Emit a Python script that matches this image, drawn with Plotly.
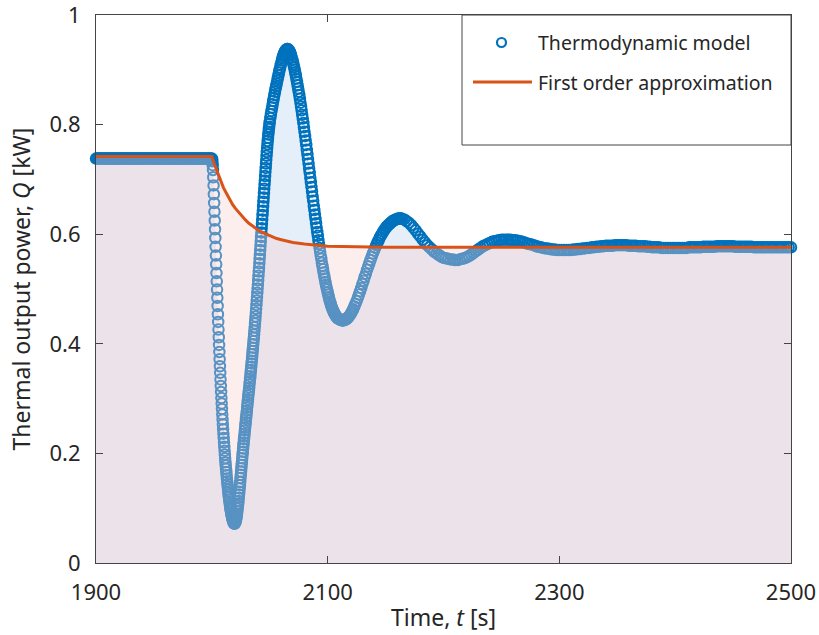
import numpy as np
import plotly.graph_objects as go

# ---- Thermodynamic model: Q [kW] sampled on a piecewise time grid ----
t_hold = np.arange(1900, 2000, 1.0)
q_hold = [
    0.738, 0.738, 0.738, 0.738, 0.738, 0.738, 0.738, 0.738, 0.738, 0.738,
    0.738, 0.738, 0.738, 0.738, 0.738, 0.738, 0.738, 0.738, 0.738, 0.738,
    0.738, 0.738, 0.738, 0.738, 0.738, 0.738, 0.738, 0.738, 0.738, 0.738,
    0.738, 0.738, 0.738, 0.738, 0.738, 0.738, 0.738, 0.738, 0.738, 0.738,
    0.738, 0.738, 0.738, 0.738, 0.738, 0.738, 0.738, 0.738, 0.738, 0.738,
    0.738, 0.738, 0.738, 0.738, 0.738, 0.738, 0.738, 0.738, 0.738, 0.738,
    0.738, 0.738, 0.738, 0.738, 0.738, 0.738, 0.738, 0.738, 0.738, 0.738,
    0.738, 0.738, 0.738, 0.738, 0.738, 0.738, 0.738, 0.738, 0.738, 0.738,
    0.738, 0.738, 0.738, 0.738, 0.738, 0.738, 0.738, 0.738, 0.738, 0.738,
    0.738, 0.738, 0.738, 0.738, 0.738, 0.738, 0.738, 0.738, 0.738, 0.738]

t_drop = np.arange(2000, 2020, 0.25)
q_drop = [
    0.738, 0.737, 0.733, 0.726, 0.717, 0.704, 0.689, 0.673,
    0.657, 0.641, 0.625, 0.609, 0.593, 0.577, 0.561, 0.545,
    0.529, 0.514, 0.499, 0.484, 0.469, 0.454, 0.440, 0.426,
    0.412, 0.398, 0.385, 0.372, 0.359, 0.347, 0.335, 0.323,
    0.312, 0.301, 0.291, 0.281, 0.271, 0.262, 0.253, 0.244,
    0.236, 0.228, 0.220, 0.212, 0.205, 0.198, 0.191, 0.184,
    0.178, 0.172, 0.166, 0.160, 0.154, 0.149, 0.144, 0.139,
    0.134, 0.129, 0.124, 0.120, 0.116, 0.112, 0.108, 0.104,
    0.100, 0.097, 0.094, 0.091, 0.088, 0.086, 0.083, 0.081,
    0.079, 0.077, 0.076, 0.074, 0.073, 0.072, 0.072, 0.072]

t_rise = np.arange(2020, 2050, 0.25)
q_rise = [
    0.073, 0.074, 0.076, 0.078, 0.080, 0.083, 0.086, 0.090,
    0.094, 0.099, 0.104, 0.108, 0.113, 0.119, 0.125, 0.130,
    0.136, 0.142, 0.148, 0.155, 0.161, 0.167, 0.173, 0.179,
    0.185, 0.191, 0.197, 0.203, 0.209, 0.215, 0.220, 0.226,
    0.231, 0.236, 0.242, 0.247, 0.252, 0.257, 0.263, 0.268,
    0.273, 0.278, 0.284, 0.289, 0.294, 0.299, 0.305, 0.310,
    0.315, 0.320, 0.326, 0.331, 0.336, 0.341, 0.347, 0.352,
    0.358, 0.364, 0.369, 0.375, 0.381, 0.387, 0.393, 0.399,
    0.405, 0.411, 0.417, 0.424, 0.430, 0.437, 0.443, 0.450,
    0.457, 0.464, 0.471, 0.479, 0.486, 0.493, 0.501, 0.508,
    0.516, 0.524, 0.532, 0.539, 0.547, 0.555, 0.563, 0.571,
    0.579, 0.587, 0.595, 0.603, 0.611, 0.619, 0.627, 0.635,
    0.643, 0.651, 0.659, 0.667, 0.675, 0.683, 0.691, 0.698,
    0.706, 0.714, 0.721, 0.729, 0.736, 0.743, 0.750, 0.757,
    0.764, 0.770, 0.776, 0.782, 0.787, 0.792, 0.796, 0.801]

t_peak = np.arange(2050, 2118, 0.5)
q_peak = [
    0.805, 0.812, 0.819, 0.825, 0.831, 0.837, 0.843, 0.849,
    0.854, 0.860, 0.865, 0.870, 0.875, 0.880, 0.885, 0.890,
    0.895, 0.900, 0.904, 0.909, 0.913, 0.917, 0.921, 0.925,
    0.928, 0.931, 0.933, 0.935, 0.936, 0.937, 0.938, 0.938,
    0.937, 0.936, 0.934, 0.932, 0.929, 0.926, 0.922, 0.918,
    0.914, 0.910, 0.905, 0.900, 0.895, 0.890, 0.884, 0.878,
    0.872, 0.866, 0.860, 0.854, 0.847, 0.840, 0.833, 0.826,
    0.818, 0.811, 0.803, 0.795, 0.787, 0.779, 0.771, 0.763,
    0.754, 0.746, 0.737, 0.729, 0.720, 0.712, 0.703, 0.695,
    0.686, 0.678, 0.669, 0.661, 0.652, 0.644, 0.636, 0.628,
    0.620, 0.612, 0.604, 0.597, 0.589, 0.582, 0.575, 0.568,
    0.561, 0.555, 0.548, 0.542, 0.536, 0.530, 0.524, 0.519,
    0.513, 0.508, 0.503, 0.499, 0.494, 0.490, 0.485, 0.481,
    0.477, 0.474, 0.470, 0.467, 0.464, 0.462, 0.459, 0.457,
    0.455, 0.453, 0.451, 0.450, 0.448, 0.447, 0.446, 0.446,
    0.445, 0.444, 0.444, 0.444, 0.443, 0.443, 0.443, 0.443,
    0.443, 0.444, 0.444, 0.444, 0.445, 0.446, 0.447, 0.448]

t_osc = np.arange(2118, 2164, 1.0)
q_osc = [
    0.449, 0.452, 0.455, 0.459, 0.463, 0.468, 0.473, 0.478, 0.484, 0.490,
    0.496, 0.502, 0.509, 0.515, 0.522, 0.528, 0.535, 0.541, 0.547, 0.553,
    0.559, 0.565, 0.570, 0.575, 0.580, 0.585, 0.589, 0.594, 0.598, 0.601,
    0.605, 0.608, 0.611, 0.614, 0.616, 0.618, 0.620, 0.622, 0.624, 0.625,
    0.626, 0.627, 0.628, 0.628, 0.629, 0.629]

t_damp = np.arange(2164, 2220, 2.0)
q_damp = [
    0.628, 0.627, 0.624, 0.621, 0.617, 0.612, 0.607, 0.601, 0.596, 0.590,
    0.585, 0.580, 0.576, 0.572, 0.568, 0.565, 0.562, 0.559, 0.557, 0.556,
    0.555, 0.554, 0.554, 0.553, 0.553, 0.554, 0.555, 0.556]

t_tail = np.arange(2220, 2501, 2.0)
q_tail = [
    0.558, 0.560, 0.563, 0.566, 0.569, 0.572, 0.575, 0.578, 0.580, 0.582,
    0.584, 0.586, 0.587, 0.588, 0.589, 0.590, 0.590, 0.590, 0.590, 0.590,
    0.589, 0.589, 0.588, 0.587, 0.586, 0.585, 0.583, 0.582, 0.581, 0.580,
    0.578, 0.577, 0.576, 0.575, 0.574, 0.574, 0.573, 0.572, 0.572, 0.571,
    0.571, 0.571, 0.571, 0.571, 0.571, 0.571, 0.572, 0.572, 0.573, 0.573,
    0.574, 0.574, 0.575, 0.575, 0.576, 0.576, 0.577, 0.577, 0.578, 0.578,
    0.579, 0.579, 0.579, 0.579, 0.580, 0.580, 0.580, 0.580, 0.580, 0.580,
    0.579, 0.579, 0.579, 0.579, 0.578, 0.578, 0.578, 0.578, 0.577, 0.577,
    0.576, 0.576, 0.576, 0.576, 0.575, 0.575, 0.575, 0.575, 0.575, 0.575,
    0.575, 0.575, 0.575, 0.575, 0.575, 0.575, 0.576, 0.576, 0.576, 0.576,
    0.576, 0.576, 0.577, 0.577, 0.577, 0.577, 0.577, 0.577, 0.578, 0.578,
    0.578, 0.578, 0.578, 0.578, 0.578, 0.578, 0.577, 0.577, 0.577, 0.577,
    0.577, 0.577, 0.577, 0.577, 0.576, 0.576, 0.576, 0.576, 0.576, 0.576,
    0.576, 0.576, 0.576, 0.576, 0.576, 0.576, 0.576, 0.576, 0.576, 0.576,
    0.576]

# ---- First order approximation ----
t_fo = [1900, 2000, 2002, 2004, 2006, 2008, 2010, 2012, 2014, 2016, 2018,
        2020, 2023, 2026, 2029, 2032, 2035, 2038, 2041, 2044, 2048, 2052,
        2056, 2060, 2065, 2070, 2080, 2090, 2100, 2150, 2500]
q_fo = [0.742, 0.742, 0.729, 0.717, 0.705, 0.695, 0.685, 0.677, 0.669,
        0.661, 0.654, 0.648, 0.640, 0.632, 0.626, 0.620, 0.615, 0.610,
        0.606, 0.603, 0.599, 0.595, 0.592, 0.590, 0.587, 0.585, 0.582,
        0.580, 0.578, 0.576, 0.576]

# axis ticks
x_ticks = [1900, 2100, 2300, 2500]
y_ticks = [0, 0.2, 0.4, 0.6, 0.8, 1]
y_ticktext = ["0", "0.2", "0.4", "0.6", "0.8", "1"]

t_tm = np.concatenate([t_hold, t_drop, t_rise, t_peak, t_osc, t_damp, t_tail])
q_tm = np.concatenate([q_hold, q_drop, q_rise, q_peak, q_osc, q_damp, q_tail])
assert len(t_tm) == len(q_tm)

BLUE = "#0072BD"
ORANGE = "#D95319"
INK = "#262626"
AXIS = "#444444"
FONT = "Noto Sans"

fig = go.Figure()
# shaded area under the thermodynamic model
fig.add_trace(go.Scatter(x=t_tm, y=q_tm, mode="none", fill="tozeroy",
                         fillcolor="rgba(0,100,200,0.10)", showlegend=False,
                         hoverinfo="skip"))
# thermodynamic model samples
fig.add_trace(go.Scatter(x=t_tm, y=q_tm, mode="markers", name="Thermodynamic model",
                         marker=dict(symbol="circle-open", size=10.5, color=BLUE,
                                     line=dict(width=2, color=BLUE)),
                         cliponaxis=False, showlegend=False))
# shaded area under the first order approximation
fig.add_trace(go.Scatter(x=t_fo, y=q_fo, mode="none", fill="tozeroy",
                         fillcolor="rgba(249,206,206,0.35)", showlegend=False,
                         hoverinfo="skip"))
fig.add_trace(go.Scatter(x=t_fo, y=q_fo, mode="lines", name="First order approximation",
                         line=dict(color=ORANGE, width=3), showlegend=False))

# plot area geometry (pixels) for the legend box
L, R, T, B = 96, 28, 15, 72
W, H = 819, 635
pw, ph = W - L - R, H - T - B


def px(xp):
    return (xp - L) / pw


def py(yp):
    return (H - B - yp) / ph


shapes = [
    dict(type="rect", xref="paper", yref="paper", x0=px(462), x1=1.0,
         y0=py(145), y1=1.0, line=dict(color=AXIS, width=1), fillcolor="white",
         layer="above"),
    dict(type="circle", xref="paper", yref="paper", xsizemode="pixel",
         ysizemode="pixel", xanchor=px(501.5), yanchor=py(42.5),
         x0=-4.5, x1=4.5, y0=-4.5, y1=4.5, line=dict(color=BLUE, width=2.2)),
    dict(type="line", xref="paper", yref="paper", x0=px(473), x1=px(532),
         y0=py(82), y1=py(82), line=dict(color=ORANGE, width=3)),
]
annotations = [
    dict(xref="paper", yref="paper", x=px(536), y=py(42.5), xanchor="left",
         yanchor="middle", showarrow=False, text="Thermodynamic model",
         font=dict(family=FONT, size=19.5, color=INK)),
    dict(xref="paper", yref="paper", x=px(536), y=py(82), xanchor="left",
         yanchor="middle", showarrow=False, text="First order approximation",
         font=dict(family=FONT, size=19.5, color=INK)),
]

axis_common = dict(showgrid=False, zeroline=False, showline=True, linecolor=AXIS,
                   linewidth=1, mirror="ticks", ticks="inside", ticklen=7,
                   tickcolor=AXIS, automargin=False, ticklabeloverflow="allow",
                   tickfont=dict(family=FONT, size=22, color=INK))

fig.update_layout(
    width=W, height=H,
    margin=dict(l=L, r=R, t=T, b=B, autoexpand=False),
    paper_bgcolor="white", plot_bgcolor="white",
    shapes=shapes, annotations=annotations,
    xaxis=dict(range=[1900, 2500], tickvals=x_ticks, ticktext=[str(v) for v in x_ticks],
               ticklabelstandoff=10,
               title=dict(text="Time, <i>t</i> [s]", standoff=4,
                          font=dict(family=FONT, size=23, color=INK)),
               **axis_common),
    yaxis=dict(range=[0, 1], tickvals=y_ticks, ticktext=y_ticktext,
               ticklabelstandoff=10,
               title=dict(text="Thermal output power, <i>Q</i> [kW]", standoff=12,
                          font=dict(family=FONT, size=23, color=INK)),
               **axis_common),
)

fig.write_html("out.html")
